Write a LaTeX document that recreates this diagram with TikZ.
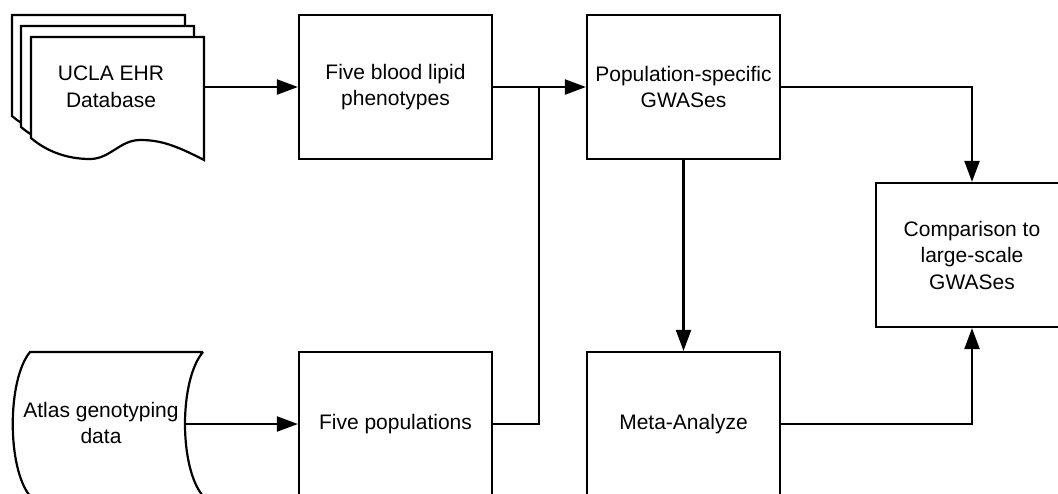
\documentclass[tikz,border=0pt]{standalone}
\usepackage{fontspec}
\setmainfont{Liberation Sans}
\usetikzlibrary{arrows.meta}
\tikzset{
  box/.style={draw, rectangle, minimum width=193pt, minimum height=144pt, inner sep=0pt, align=center, font=\fontsize{21}{26.5}\selectfont},
  lbl/.style={inner sep=0pt, align=center, font=\fontsize{21}{26.5}\selectfont},
  page/.style={draw, fill=white, line join=miter},
  arr/.style={-{Triangle[length=21pt,width=15pt]}},
  wire/.style={line join=miter}
}
\begin{document}
\begin{tikzpicture}[x=1pt,y=-1pt,line width=2.2pt]
\useasboundingbox (0,0) rectangle (1058,493);
\clip (0,0) rectangle (1058,493);
% multi-document shape
\begin{scope}[shift={(-19,-22)}]
\draw[page] (31,37) -- (204,37) -- (204,160) .. controls (175,145) and (160,140) .. (140,140) .. controls (120,140) and (110,159) .. (90,159) .. controls (65,159) and (45,150) .. (31,138) -- cycle;
\end{scope}
\begin{scope}[shift={(-10,-11)}]
\draw[page] (31,37) -- (204,37) -- (204,160) .. controls (175,145) and (160,140) .. (140,140) .. controls (120,140) and (110,159) .. (90,159) .. controls (65,159) and (45,150) .. (31,138) -- cycle;
\end{scope}
\draw[page] (31,37) -- (204,37) -- (204,160) .. controls (175,145) and (160,140) .. (140,140) .. controls (120,140) and (110,159) .. (90,159) .. controls (65,159) and (45,150) .. (31,138) -- cycle;
\node[lbl] (doc) at (111,87) {UCLA EHR\\Database};
\coordinate (docout) at (204,87);
% stored data shape
\draw[page] (203,352) -- (30,352) .. controls (7,380) and (7,468) .. (30,496) -- (203,496) .. controls (179,468) and (179,380) .. (203,352);
\node[lbl] (atlas) at (101,423) {Atlas genotyping\\data};
\coordinate (atlasout) at (185,424);
% boxes
\node[box] (b1) at (395.5,87) {Five blood lipid\\phenotypes};
\node[box] (b2) at (683.5,87) {Population-specific\\GWASes};
\node[box, minimum width=192pt] (b3) at (972,255) {Comparison to\\large-scale\\GWASes};
\node[box] (b5) at (395.5,424) {Five populations};
\node[box] (b4) at (683.5,424) {Meta-Analyze};
\coordinate (jn) at (539,87);
% connectors
\draw[arr] (docout) -- (b1.west);
\draw[arr] (b1.east) -- (b2.west);
\draw[wire] (b5.east) -| (jn);
\draw[arr] (atlasout) -- (b5.west);
\draw[arr,wire] (b2.east) -| (b3.north);
\draw[arr] (b2.south) -- (b4.north);
\draw[arr,wire] (b4.east) -| (b3.south);
\end{tikzpicture}
\end{document}
